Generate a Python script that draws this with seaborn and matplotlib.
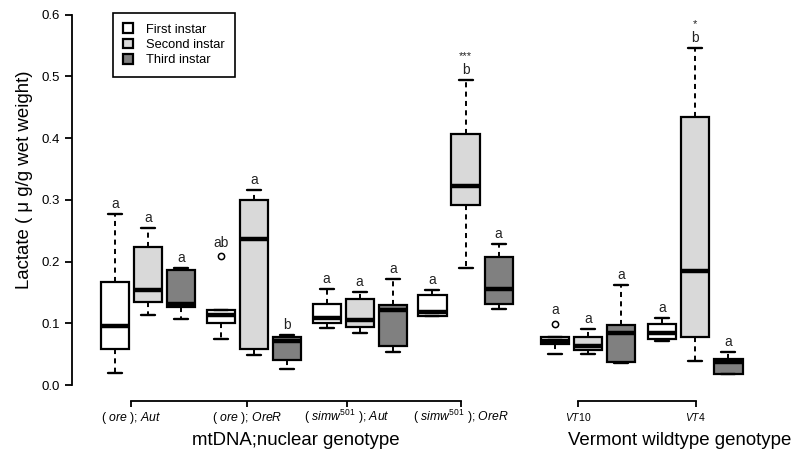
import numpy as np
import pandas as pd
import matplotlib
matplotlib.use("Agg")
import matplotlib.pyplot as plt
import matplotlib.transforms as mtransforms
import seaborn as sns

# ---------------- data ----------------
instars = ["First instar", "Second instar", "Third instar"]
genotypes = ["(ore);Aut", "(ore);OreR", "(simw501);Aut", "(simw501);OreR", "VT10", "VT4"]

# 18 boxes: genotype-major, instar-minor
whisker_low = [0.020, 0.113, 0.107,
               0.074, 0.049, 0.026,
               0.092, 0.085, 0.053,
               0.111, 0.190, 0.123,
               0.051, 0.050, 0.035,
               0.071, 0.039, 0.018]
q1 = [0.058, 0.134, 0.127,
      0.100, 0.059, 0.041,
      0.100, 0.094, 0.064,
      0.111, 0.291, 0.131,
      0.066, 0.056, 0.037,
      0.075, 0.077, 0.018]
median = [0.096, 0.154, 0.131,
          0.114, 0.237, 0.072,
          0.108, 0.105, 0.122,
          0.118, 0.323, 0.155,
          0.072, 0.064, 0.085,
          0.084, 0.185, 0.038]
q3 = [0.167, 0.223, 0.186,
      0.122, 0.300, 0.078,
      0.131, 0.139, 0.129,
      0.146, 0.406, 0.208,
      0.078, 0.078, 0.098,
      0.099, 0.434, 0.042]
whisker_high = [0.277, 0.254, 0.190,
                0.122, 0.316, 0.081,
                0.155, 0.150, 0.171,
                0.154, 0.494, 0.229,
                0.078, 0.091, 0.162,
                0.109, 0.546, 0.054]
outliers = [[], [], [],
            [0.209], [], [],
            [], [], [],
            [], [], [],
            [0.099], [], [],
            [], [], []]
letters = ["a", "a", "a",
           "ab", "a", "b",
           "a", "a", "a",
           "a", "b", "a",
           "a", "a", "a",
           "a", "b", "a"]
stars = ["", "", "",
         "", "", "",
         "", "", "",
         "", "***", "",
         "", "", "",
         "", "*", ""]
tick_labels = [r"( $\mathit{ore}$ ); $\mathit{Aut}$",
               r"( $\mathit{ore}$ ); $\mathit{OreR}$",
               r"( $\mathit{simw}^{501}$ ); $\mathit{Aut}$",
               r"( $\mathit{simw}^{501}$ ); $\mathit{OreR}$",
               r"$\mathit{VT10}$",
               r"$\mathit{VT4}$"]
group_labels = ["mtDNA;nuclear genotype", "Vermont wildtype genotype"]
y_label = "Lactate ( \u03bc g/g wet weight)"

# ---------------- layout constants ----------------
group_start = [0.0, 3.2, 6.4, 9.6, 13.3, 16.55]
tick_pos = [0.48, 3.99, 7.02, 10.46, 14.01, 17.56]
group_label_x = [(0.48 + 10.46) / 2, 17.08]
palette = {"First instar": "#ffffff", "Second instar": "#d9d9d9", "Third instar": "#808080"}


def expand(lo, a, m, b, hi, outs):
    """Sample whose quartiles/whiskers reproduce the read box statistics."""
    if outs:
        return [lo, a, a, m, m, b, b, hi] + list(outs)[:1]
    return [lo, a, m, b, hi]


rows = []
positions = []
for k in range(len(median)):
    g, i = divmod(k, 3)
    pos = group_start[g] + i
    positions.append(pos)
    for v in expand(whisker_low[k], q1[k], median[k], q3[k], whisker_high[k], outliers[k]):
        rows.append({"pos": pos, "instar": instars[i], "lactate": v})
df = pd.DataFrame(rows)

# ---------------- style ----------------
sns.set_style("ticks", {"axes.edgecolor": "black", "xtick.color": "black",
                        "ytick.color": "black", "text.color": "black",
                        "axes.labelcolor": "black"})
plt.rcParams["font.family"] = ["Liberation Sans", "DejaVu Sans"]
plt.rcParams["mathtext.fontset"] = "custom"
plt.rcParams["mathtext.rm"] = "Liberation Sans"
plt.rcParams["mathtext.it"] = "Liberation Sans:italic"
plt.rcParams["mathtext.bf"] = "Liberation Sans:bold"
plt.rcParams["mathtext.sf"] = "Liberation Sans"

W, H = 794, 466
fig = plt.figure(figsize=(W / 100, H / 100), dpi=100)
ax_left, ax_right, ax_top, ax_bottom = 71.5, 790.0, 0.0, 401.0
ax = fig.add_axes([ax_left / W, 1 - ax_bottom / H, (ax_right - ax_left) / W, (ax_bottom - ax_top) / H])

sns.boxplot(data=df, x="pos", y="lactate", hue="instar", hue_order=instars,
            palette=palette, native_scale=True, dodge=False, width=0.85,
            saturation=1, linecolor="black", linewidth=1.6, whis=1.5,
            fliersize=4.5, ax=ax,
            medianprops={"linewidth": 3.2},
            whiskerprops={"linestyle": (0, (2.6, 2.2)), "linewidth": 1.4},
            capprops={"linewidth": 1.7},
            flierprops={"marker": "o", "markerfacecolor": "none", "markeredgewidth": 1.1})

px = 33.07
ax.set_xlim((ax_left - 115) / px, (ax_right - 115) / px)
upp = 0.6 / (385 - 14.7)
ax.set_ylim(-(ax_bottom - 385) * upp, 0.6 + 14.7 * upp)

# y axis
ax.set_yticks(np.round(np.arange(0, 0.61, 0.1), 1))
ax.yaxis.set_major_formatter(matplotlib.ticker.FormatStrFormatter("%.1f"))
ax.tick_params(axis="y", labelsize=9.5, length=5, width=1.3, direction="out", pad=3.5)
ax.spines["left"].set_bounds(0, 0.6)
ax.spines["left"].set_linewidth(1.3)
sns.despine(ax=ax, bottom=True)
ax.set_ylabel(y_label, fontsize=13.4)
ax.yaxis.set_label_coords((33 - ax_left) / (ax_right - ax_left), 1 - 180 / ax_bottom)

# x axis: bracket style axes
ax.set_xlabel("")
ax.set_xticks(tick_pos, tick_labels, fontsize=8.8, va="baseline")
ax.tick_params(axis="x", length=4, width=1.3, direction="out", pad=10.4)
for lbl in ax.get_xticklabels()[4:]:
    lbl.set_fontsize(7.5)
xt = ax.get_xaxis_transform()
ax.plot([tick_pos[0], tick_pos[3]], [0, 0], color="black", lw=1.3, transform=xt,
        clip_on=False, solid_capstyle="projecting")
ax.plot([tick_pos[4], tick_pos[5]], [0, 0], color="black", lw=1.3, transform=xt,
        clip_on=False, solid_capstyle="projecting")

tr = mtransforms.blended_transform_factory(ax.transData, fig.transFigure)
for gx, lab in zip(group_label_x, group_labels):
    ax.text(gx, 1 - 445 / H, lab, transform=tr, ha="center", va="baseline", fontsize=13.4)

# significance letters
for k, pos in enumerate(positions):
    top = max([whisker_high[k]] + outliers[k])
    off = 4.3 + (2.5 if outliers[k] else 0)
    ax.annotate(letters[k], xy=(pos, top), xytext=(0, off), textcoords="offset points",
                ha="center", va="baseline", fontsize=9.8, color="#222222")
    if stars[k]:
        ax.annotate(stars[k], xy=(pos, top), xytext=(0, off + 11), textcoords="offset points",
                    ha="center", va="baseline", fontsize=8, color="#222222")

# legend
sns.move_legend(ax, "upper left", bbox_to_anchor=(113 / W, 1 - 13 / H),
                bbox_transform=fig.transFigure, title=None, frameon=True,
                fancybox=False, fontsize=9.3, handlelength=0.75, handleheight=0.75,
                handletextpad=1.0, borderpad=0.8, labelspacing=0.25,
                borderaxespad=0, framealpha=1, edgecolor="black")
ax.get_legend().get_frame().set_linewidth(1.2)

fig.savefig("out.png", dpi=100)
